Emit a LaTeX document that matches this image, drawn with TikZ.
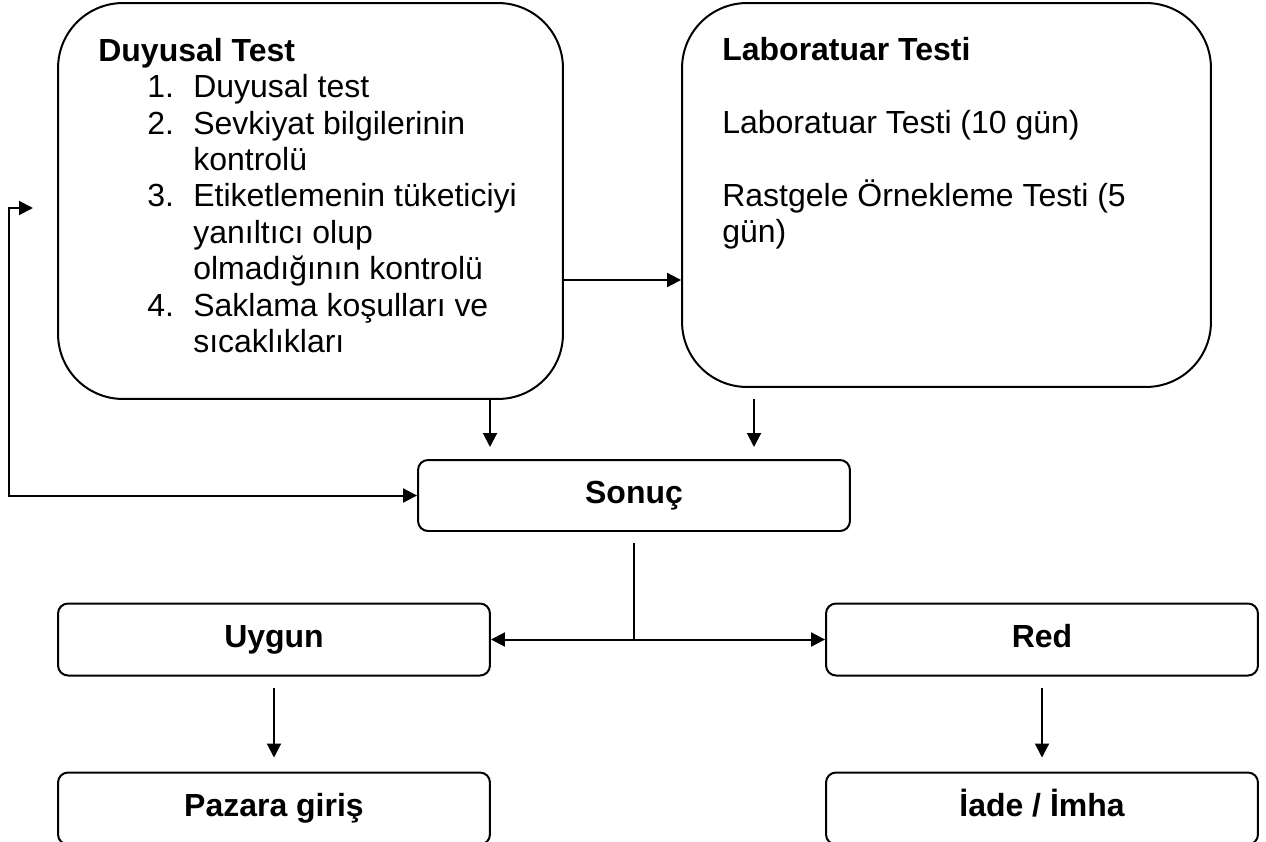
\documentclass[tikz,border=0pt]{standalone}
\usepackage{fontspec}
\setmainfont{Liberation Sans}
\usetikzlibrary{arrows.meta}

\newcommand{\boxfont}{\fontsize{18.2pt}{20.7pt}\selectfont}
\newcommand{\numitem}[2]{\hspace*{0.98cm}\makebox[0.92cm][l]{#1}#2}
\newcommand{\numcont}[1]{\hspace*{1.9cm}#1}

\tikzset{
    bigbox/.style={draw, line width=0.04cm, rounded corners=1.3cm, inner sep=0pt},
    smallbox/.style={draw, line width=0.04cm, rounded corners=0.2cm, minimum width=8.64cm, minimum height=1.44cm, inner sep=0pt, text height=0.4cm, text depth=0.1cm, font=\boxfont\bfseries},
    boxtext/.style={anchor=north west, align=left, inner sep=0pt, font=\boxfont},
    arr/.style={line width=0.04cm, -{Triangle[length=0.28cm, width=0.28cm]}},
    arrboth/.style={line width=0.04cm, {Triangle[length=0.28cm, width=0.28cm]}-{Triangle[length=0.28cm, width=0.28cm]}},
}

\begin{document}
\begin{tikzpicture}[x=0.02cm, y=-0.02cm]
    \useasboundingbox (0,0) rectangle (1266,841);
    \clip (0,0) rectangle (1266,841);

    % Test boxes
    \node[bigbox, minimum width=10.1cm, minimum height=7.92cm] (duyusal) at (310.5,201) {};
    \node[bigbox, minimum width=10.58cm, minimum height=7.68cm] (lab) at (946.5,195) {};
    \node[boxtext] (duyusalText) at (98,38) {\textbf{Duyusal Test}\\
        \numitem{1.}{Duyusal test}\\
        \numitem{2.}{Sevkiyat bilgilerinin}\\
        \numcont{kontrolü}\\
        \numitem{3.}{Etiketlemenin tüketiciyi}\\
        \numcont{yanıltıcı olup}\\
        \numcont{olmadığının kontrolü}\\
        \numitem{4.}{Saklama koşulları ve}\\
        \numcont{sıcaklıkları}};
    \node[boxtext] (labText) at (722,37) {\textbf{Laboratuar Testi}\\[0.73cm]
        Laboratuar Testi (10 gün)\\[0.73cm]
        Rastgele Örnekleme Testi (5\\
        gün)};

    % Result and decisions
    \node[smallbox, minimum height=1.42cm] (sonuc) at (634,495.5) {Sonuç};
    \node[smallbox] (uygun) at (274,639.5) {Uygun};
    \node[smallbox] (red) at (1042,639.5) {Red};
    \node[smallbox] (pazara) at (274,808.5) {Pazara giriş};
    \node[smallbox] (iade) at (1042,808.5) {İade / İmha};

    % Connectors
    \coordinate (mid) at (0,280);
    \coordinate (dOut) at (490,399);
    \coordinate (dIn) at (490,447);
    \coordinate (lOut) at (754,399);
    \coordinate (lIn) at (754,447);
    \coordinate (fbTip) at (33,208);
    \coordinate (fbCorner) at (9,208);
    \coordinate (splitTop) at (634,543);
    \coordinate (split) at (634,639.5);

    \draw[arr] (duyusal.east |- mid) -- (lab.west |- mid);
    \draw[arr] (dOut) -- (dIn);
    \draw[arr] (lOut) -- (lIn);
    \draw[arrboth] (fbTip) -- (fbCorner) |- (sonuc.west);
    \draw[line width=0.04cm] (splitTop) -- (split);
    \draw[arr] (split) -- (uygun.east);
    \draw[arr] (split) -- (red.west);
    \draw[arr] ([yshift=-0.22cm]uygun.south) -- ([yshift=0.28cm]pazara.north);
    \draw[arr] ([yshift=-0.22cm]red.south) -- ([yshift=0.28cm]iade.north);
\end{tikzpicture}
\end{document}
